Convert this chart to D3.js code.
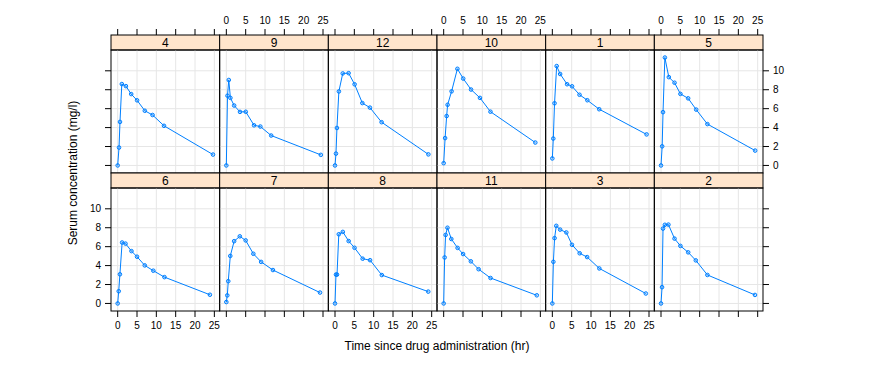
<!DOCTYPE html>
<html><head><meta charset="utf-8">
<script src="https://cdn.jsdelivr.net/npm/d3@7"></script>
<style>body{margin:0;background:#fff}svg{display:block;font-family:"Liberation Sans",Arial,sans-serif}</style>
</head><body><div id="chart"></div>
<script>
// Panel order: bottom row first (lattice), then top row
const bottomRow = ["6","7","8","11","3","2"];
const topRow = ["4","9","12","10","1","5"];
const xTicks = [0,5,10,15,20,25];
const yTicks = [0,2,4,6,8,10];
const times = {
 "1":[0,0.25,0.57,1.12,2.02,3.82,5.10,7.03,9.05,12.12,24.37],
 "2":[0,0.27,0.52,1,1.92,3.5,5.02,7.03,9,12,24.3],
 "3":[0,0.27,0.58,1.02,2.02,3.62,5.08,7.07,9,12.15,24.17],
 "4":[0,0.35,0.6,1.07,2.13,3.5,5.02,7.02,9.02,11.98,24.65],
 "5":[0,0.3,0.52,1,2.02,3.5,5.02,7.02,9.1,12,24.35],
 "6":[0,0.27,0.58,1.15,2.03,3.57,5,7,9.22,12.1,23.85],
 "7":[0,0.25,0.5,1.02,2.02,3.48,5,6.98,9,12.05,24.22],
 "8":[0,0.25,0.52,0.98,2.02,3.53,5.05,7.15,9.07,12.1,24.12],
 "9":[0,0.3,0.63,1.05,2.02,3.53,5.02,7.17,8.8,11.6,24.43],
 "10":[0,0.37,0.77,1.02,2.05,3.55,5.05,7.08,9.38,12.1,23.7],
 "11":[0,0.25,0.5,0.98,1.98,3.6,5.02,7.03,9.03,12.12,24.08],
 "12":[0,0.25,0.5,1,2,3.52,5.07,7.07,9.03,12.05,24.15]
};
const concs = {
 "1":[0.74,2.84,6.57,10.5,9.66,8.58,8.36,7.47,6.89,5.94,3.28],
 "2":[0,1.72,7.91,8.31,8.33,6.85,6.08,5.4,4.55,3.01,0.9],
 "3":[0,4.4,6.9,8.2,7.8,7.5,6.2,5.3,4.9,3.7,1.05],
 "4":[0,1.89,4.6,8.6,8.38,7.54,6.88,5.78,5.33,4.19,1.15],
 "5":[0,2.02,5.63,11.4,9.33,8.74,7.56,7.09,5.9,4.37,1.57],
 "6":[0,1.29,3.08,6.44,6.32,5.53,4.94,4.02,3.46,2.78,0.92],
 "7":[0.15,0.85,2.35,5.02,6.58,7.09,6.66,5.25,4.39,3.53,1.15],
 "8":[0,3.05,3.05,7.31,7.56,6.59,5.88,4.73,4.57,3.0,1.25],
 "9":[0,7.37,9.03,7.14,6.33,5.66,5.67,4.24,4.11,3.16,1.12],
 "10":[0.24,2.89,5.22,6.41,7.83,10.21,9.18,8.02,7.14,5.68,2.42],
 "11":[0,4.86,7.24,8.0,6.81,5.87,5.22,4.45,3.62,2.69,0.86],
 "12":[0,1.25,3.96,7.82,9.72,9.75,8.57,6.59,6.11,4.57,1.17]
};
const xLabel = "Time since drug administration (hr)";
const yLabel = "Serum concentration (mg/l)";

const W = 875, H = 381;
const left = 111, right = 763, ncol = 6;
const pw = (right - left) / ncol;
const stripH = 15, panelH = 123;
const topStrip = 35;
const svg = d3.select("#chart").append("svg").attr("width", W).attr("height", H);

const x = d3.scaleLinear().domain([-1.7255, 26.3755]).range([0, pw]);
const y = d3.scaleLinear().domain([-0.798, 12.198]).range([panelH, 0]);
const blue = "#0080ff";
const tickLen = 6;

function drawPanel(subj, col, rowTop, isTopRow) {
  const g = svg.append("g").attr("transform", `translate(${left + col*pw},${rowTop})`);
  // strip
  g.append("rect").attr("x",0).attr("y",0).attr("width",pw).attr("height",stripH)
    .attr("fill","#ffe5cc").attr("stroke","#000").attr("stroke-width",1);
  g.append("text").attr("x",pw/2).attr("y",stripH/2+4.5).attr("text-anchor","middle")
    .attr("font-size",12).text(subj);
  const p = g.append("g").attr("transform",`translate(0,${stripH})`);
  // grid
  p.selectAll(".gx").data(xTicks).join("line").attr("x1",d=>x(d)).attr("x2",d=>x(d))
    .attr("y1",0).attr("y2",panelH).attr("stroke","#e6e6e6").attr("stroke-width",1);
  p.selectAll(".gy").data(yTicks).join("line").attr("y1",d=>y(d)).attr("y2",d=>y(d))
    .attr("x1",0).attr("x2",pw).attr("stroke","#e6e6e6").attr("stroke-width",1);
  const data = times[subj].map((t,i)=>({t, c: concs[subj][i]}));
  p.append("path").datum(data).attr("fill","none").attr("stroke",blue).attr("stroke-width",1)
    .attr("d", d3.line().x(d=>x(d.t)).y(d=>y(d.c)));
  p.selectAll("circle").data(data).join("circle").attr("cx",d=>x(d.t)).attr("cy",d=>y(d.c))
    .attr("r",1.8).attr("fill","rgba(0,128,255,0.25)").attr("stroke",blue).attr("stroke-width",1);
  p.append("rect").attr("width",pw).attr("height",panelH).attr("fill","none")
    .attr("stroke","#000").attr("stroke-width",1);
  return {g, p};
}

topRow.forEach((s,i)=>{
  const {g, p} = drawPanel(s, i, topStrip, true);
  g.selectAll(".tt").data(xTicks).join("line").attr("x1",d=>x(d)).attr("x2",d=>x(d))
    .attr("y1",0).attr("y2",-tickLen).attr("stroke","#000");
  if (i % 2 === 1) {
    g.selectAll(".tl").data(xTicks).join("text").attr("x",d=>x(d)).attr("y",-tickLen-5)
      .attr("text-anchor","middle").attr("font-size",10).text(d=>d);
  }
  if (i === 0) {
    p.selectAll(".lt").data(yTicks).join("line").attr("y1",d=>y(d)).attr("y2",d=>y(d))
      .attr("x1",0).attr("x2",-tickLen).attr("stroke","#000");
  }
  if (i === 5) {
    p.selectAll(".rt").data(yTicks).join("line").attr("y1",d=>y(d)).attr("y2",d=>y(d))
      .attr("x1",pw).attr("x2",pw+tickLen).attr("stroke","#000");
    p.selectAll(".rl").data(yTicks).join("text").attr("x",pw+tickLen+4).attr("y",d=>y(d)+3.5)
      .attr("text-anchor","start").attr("font-size",10).text(d=>d);
  }
});
const bottomTop = topStrip + stripH + panelH;
bottomRow.forEach((s,i)=>{
  const {g, p} = drawPanel(s, i, bottomTop, false);
  p.selectAll(".bt").data(xTicks).join("line").attr("x1",d=>x(d)).attr("x2",d=>x(d))
    .attr("y1",panelH).attr("y2",panelH+tickLen).attr("stroke","#000");
  if (i % 2 === 0) {
    p.selectAll(".bl").data(xTicks).join("text").attr("x",d=>x(d)).attr("y",panelH+tickLen+12)
      .attr("text-anchor","middle").attr("font-size",10).text(d=>d);
  }
  if (i === 0) {
    p.selectAll(".lt").data(yTicks).join("line").attr("y1",d=>y(d)).attr("y2",d=>y(d))
      .attr("x1",0).attr("x2",-tickLen).attr("stroke","#000");
    p.selectAll(".ll").data(yTicks).join("text").attr("x",-tickLen-4).attr("y",d=>y(d)+3.5)
      .attr("text-anchor","end").attr("font-size",10).text(d=>d);
  }
  if (i === 5) {
    p.selectAll(".rt").data(yTicks).join("line").attr("y1",d=>y(d)).attr("y2",d=>y(d))
      .attr("x1",pw).attr("x2",pw+tickLen).attr("stroke","#000");
  }
});
svg.append("text").attr("x",(left+right)/2).attr("y",350).attr("text-anchor","middle")
  .attr("font-size",12).text(xLabel);
svg.append("text").attr("transform",`translate(77,${(topStrip + bottomTop + stripH + panelH)/2}) rotate(-90)`)
  .attr("text-anchor","middle").attr("font-size",12).text(yLabel);
</script></body></html>
